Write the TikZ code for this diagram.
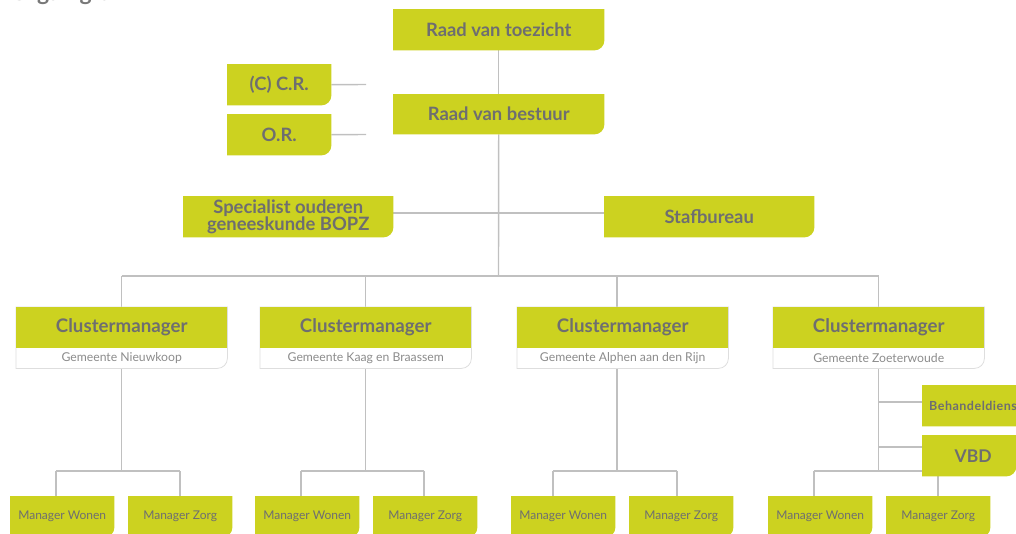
\documentclass[tikz,border=0pt]{standalone}
\usepackage{fontspec}
\setmainfont{Lato}
\definecolor{lime}{RGB}{204,210,32}
\definecolor{txt}{RGB}{110,110,112}
\definecolor{ln}{RGB}{192,192,192}
\definecolor{subtxt}{RGB}{140,140,140}
\definecolor{edgec}{RGB}{222,222,222}
\definecolor{titlec}{RGB}{120,120,120}
\pgfdeclarelayer{lines}
\pgfdeclarelayer{fills}
\pgfsetlayers{lines,fills,main}
\newcommand\gfill[1]{\fill[lime] (#1.north west) -- (#1.north east) -- ([yshift=10pt]#1.south east) arc[start angle=0,end angle=-90,radius=10pt] -- (#1.south west) -- cycle;}
\newcommand\cfill[2]{%
  \filldraw[fill=white,draw=edgec,line width=0.8pt] (#1.north west) -- (#1.north east) -- ([yshift=10pt]#2.south east) arc[start angle=0,end angle=-90,radius=10pt] -- (#2.south west) -- cycle;
  \fill[lime] (#1.north west) rectangle (#1.south east);}
\begin{document}
\begin{tikzpicture}[x=1pt,y=-1pt,
  gbox/.style={anchor=north west, inner sep=0pt, text=txt, align=center,
    font=\bfseries\fontsize{18.4}{18}\selectfont},
  smallbox/.style={gbox, minimum width=104pt, minimum height=41pt},
  widebox/.style={gbox, minimum width=211pt, minimum height=41pt},
  clbox/.style={gbox, minimum width=211pt, minimum height=41pt,
    font=\bfseries\fontsize{18.7}{19}\selectfont},
  clsub/.style={anchor=north west, inner sep=0pt, minimum width=211pt, minimum height=20pt,
    text=subtxt, font=\fontsize{12.2}{13}\selectfont},
  mgr/.style={anchor=north west, inner sep=0pt, minimum width=104pt, minimum height=41pt,
    text=txt, font=\fontsize{12}{14}\selectfont},
  conn/.style={draw=ln, line width=1.4pt},
]
\useasboundingbox (0,0) rectangle (1016,533);
\clip (0,0) rectangle (1016,533);

% title (cut off at top)
\node[anchor=base west, inner sep=0pt, text=titlec, font=\bfseries\fontsize{23}{24}\selectfont] (title) at (10,0.5) {Organigram};

% top
\node[widebox] (rvt) at (393,9) {Raad van toezicht};
\node[widebox, minimum height=40pt] (rvb) at (393,94) {Raad van bestuur};
\node[smallbox] (cr) at (227,64) {(C) C.R.};
\node[smallbox] (or) at (227,114) {O.R.};
\coordinate (crend) at (366,84.5);
\coordinate (orend) at (366,134.5);
\node[gbox, minimum width=210pt, minimum height=41pt, font=\bfseries\fontsize{18.4}{16}\selectfont] (spec) at (183,196) {Specialist ouderen\\geneeskunde BOPZ};
\node[gbox, minimum width=210pt, minimum height=41pt] (staf) at (604,196) {Stafbureau};

% clusters
\node[clbox] (c1) at (16,307) {Clustermanager};
\node[clsub] (c1s) at (16,348) {Gemeente Nieuwkoop};
\node[clbox] (c2) at (260,307) {Clustermanager};
\node[clsub] (c2s) at (260,348) {Gemeente Kaag en Braassem};
\node[clbox] (c3) at (517,307) {Clustermanager};
\node[clsub] (c3s) at (517,348) {Gemeente Alphen aan den Rijn};
\node[clbox] (c4) at (773,307) {Clustermanager};
\node[clsub] (c4s) at (773,348) {Gemeente Zoeterwoude};

% side boxes
\node[gbox, minimum width=122pt, minimum height=41pt, text width=122pt, align=left,
  font=\bfseries\fontsize{12.5}{13}\selectfont\addfontfeatures{LetterSpace=4}] (behd) at (922,385) {\hspace*{7pt}Behandeldienst};
\node[gbox, minimum width=94pt, minimum height=41pt, font=\bfseries\fontsize{17.5}{18}\selectfont] (vbd) at (922,435) {\hspace*{8pt}VBD};

% managers
\node[mgr] (w1) at (10,496) {Manager Wonen};
\node[mgr] (z1) at (128,496) {Manager Zorg};
\node[mgr] (w2) at (255,496) {Manager Wonen};
\node[mgr] (z2) at (373,496) {Manager Zorg};
\node[mgr] (w3) at (511,496) {Manager Wonen};
\node[mgr] (z3) at (629,496) {Manager Zorg};
\node[mgr] (w4) at (768,496) {Manager Wonen};
\node[mgr] (z4) at (886,496) {Manager Zorg};

% coordinates
\coordinate (bm) at (498.5,276);
\coordinate (sl) at (498.5,213);
\coordinate (b1) at (121.5,276);
\coordinate (b2) at (365.5,276);
\coordinate (b3) at (617,276);
\coordinate (b4) at (878.5,276);
\coordinate (g1) at (121.5,471);
\coordinate (g1l) at (56,471);
\coordinate (g1r) at (180,471);
\coordinate (g2) at (365.5,471);
\coordinate (g2l) at (301,471);
\coordinate (g2r) at (424,471);
\coordinate (g3) at (617,471);
\coordinate (g3l) at (553,471);
\coordinate (g3r) at (677,471);
\coordinate (g4) at (878.5,471);
\coordinate (g4l) at (814,471);
\coordinate (g4r) at (938,471);
\coordinate (bh) at (878.5,402);
\coordinate (vb) at (878.5,447);

\begin{pgfonlayer}{fills}
  \gfill{rvt}\gfill{rvb}\gfill{cr}\gfill{or}\gfill{spec}\gfill{staf}
  \gfill{behd}\gfill{vbd}
  \gfill{w1}\gfill{z1}\gfill{w2}\gfill{z2}\gfill{w3}\gfill{z3}\gfill{w4}\gfill{z4}
  \cfill{c1}{c1s}\cfill{c2}{c2s}\cfill{c3}{c3s}\cfill{c4}{c4s}
\end{pgfonlayer}

\begin{pgfonlayer}{lines}
  \draw[conn] (rvt.south) -- (rvb.north);
  \draw[conn] (cr.east) -- (crend);
  \draw[conn] (or.east) -- (orend);
  \draw[conn] (rvb.south) -- (bm);
  \draw[conn] (spec.east |- sl) -- (staf.west |- sl);
  \draw[conn] (b1) -- (b4);
  \draw[conn] (b1) -- (c1.north -| b1);
  \draw[conn] (b2) -- (c2.north -| b2);
  \draw[conn] (b3) -- (c3.north -| b3);
  \draw[conn] (b4) -- (c4.north -| b4);
  % group 1
  \draw[conn] (c1s.south -| g1) -- (g1);
  \draw[conn] (g1l) -- (g1r);
  \draw[conn] (g1l) -- (w1.north -| g1l);
  \draw[conn] (g1r) -- (z1.north -| g1r);
  % group 2
  \draw[conn] (c2s.south -| g2) -- (g2);
  \draw[conn] (g2l) -- (g2r);
  \draw[conn] (g2l) -- (w2.north -| g2l);
  \draw[conn] (g2r) -- (z2.north -| g2r);
  % group 3
  \draw[conn] (c3s.south -| g3) -- (g3);
  \draw[conn] (g3l) -- (g3r);
  \draw[conn] (g3l) -- (w3.north -| g3l);
  \draw[conn] (g3r) -- (z3.north -| g3r);
  % group 4
  \draw[conn] (c4s.south -| g4) -- (g4);
  \draw[conn] (bh) -- (behd.west |- bh);
  \draw[conn] (vb) -- (vbd.west |- vb);
  \draw[conn] (g4l) -- (g4r);
  \draw[conn] (g4l) -- (w4.north -| g4l);
  \draw[conn] (vbd.south -| g4r) -- (z4.north -| g4r);
\end{pgfonlayer}
\end{tikzpicture}
\end{document}
